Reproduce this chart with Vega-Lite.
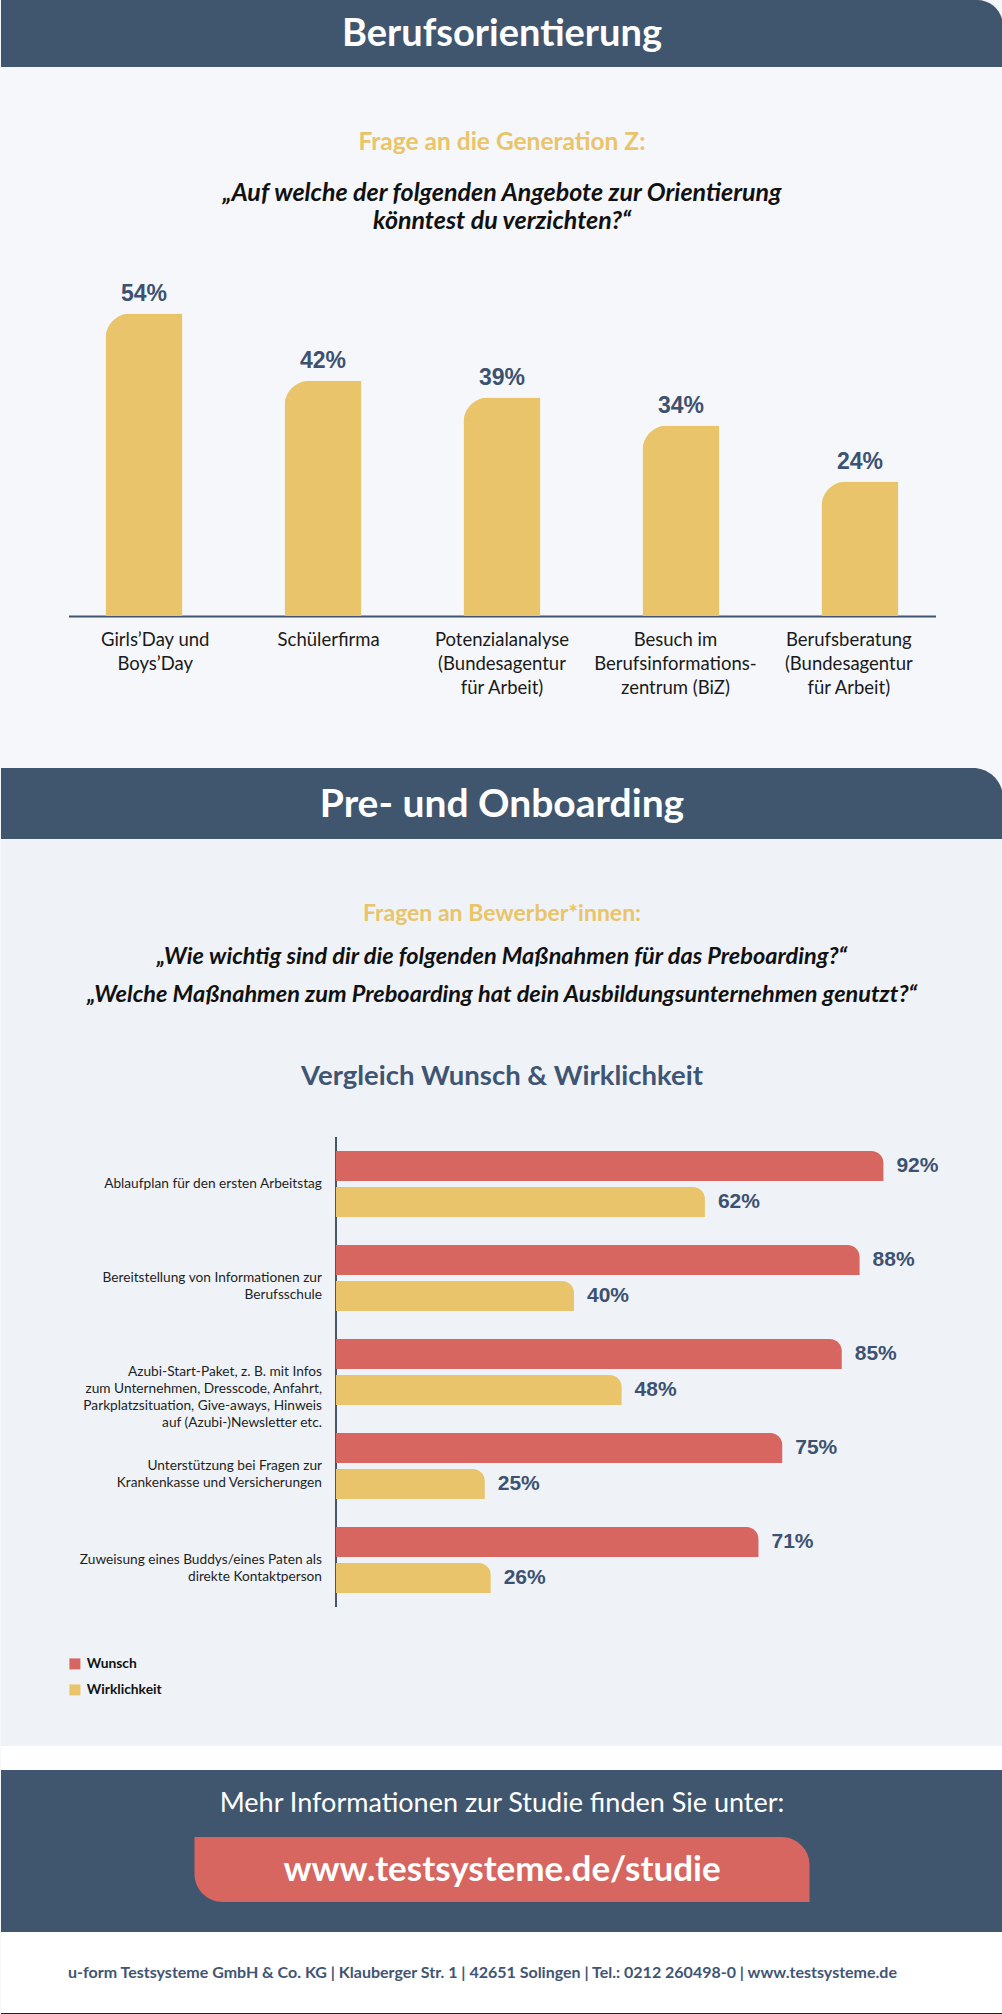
{
  "$schema": "https://vega.github.io/schema/vega-lite/v6.json",
  "padding": 0,
  "background": "#F5F7FA",
  "spacing": 0,
  "bounds": "flush",
  "center": true,
  "config": {"font": "Lato", "view": {"stroke": null}},
  "resolve": {"scale": {"x": "independent", "y": "independent", "color": "independent"}, "legend": {"color": "independent"}},
  "datasets": {
    "eins": [{}],
    "orientierung": [
      {"angebot": "Girls’Day und Boys’Day", "zeilen": ["Girls’Day und", "Boys’Day"], "anteil": 0.54},
      {"angebot": "Schülerfirma", "zeilen": ["Schülerfirma"], "anteil": 0.42},
      {"angebot": "Potenzialanalyse (Bundesagentur für Arbeit)", "zeilen": ["Potenzialanalyse", "(Bundesagentur", "für Arbeit)"], "anteil": 0.39},
      {"angebot": "Besuch im Berufsinformationszentrum (BiZ)", "zeilen": ["Besuch im", "Berufsinformations-", "zentrum (BiZ)"], "anteil": 0.34},
      {"angebot": "Berufsberatung (Bundesagentur für Arbeit)", "zeilen": ["Berufsberatung", "(Bundesagentur", "für Arbeit)"], "anteil": 0.24}
    ],
    "preboarding": [
      {"massnahme": "Ablaufplan für den ersten Arbeitstag", "zeilen": ["Ablaufplan für den ersten Arbeitstag"], "reihe": "Wunsch", "anteil": 0.92},
      {"massnahme": "Ablaufplan für den ersten Arbeitstag", "zeilen": ["Ablaufplan für den ersten Arbeitstag"], "reihe": "Wirklichkeit", "anteil": 0.62},
      {"massnahme": "Bereitstellung von Informationen zur Berufsschule", "zeilen": ["Bereitstellung von Informationen zur", "Berufsschule"], "reihe": "Wunsch", "anteil": 0.88},
      {"massnahme": "Bereitstellung von Informationen zur Berufsschule", "zeilen": ["Bereitstellung von Informationen zur", "Berufsschule"], "reihe": "Wirklichkeit", "anteil": 0.40},
      {"massnahme": "Azubi-Start-Paket", "zeilen": ["Azubi-Start-Paket, z. B. mit Infos", "zum Unternehmen, Dresscode, Anfahrt,", "Parkplatzsituation, Give-aways, Hinweis", "auf (Azubi-)Newsletter etc."], "reihe": "Wunsch", "anteil": 0.85},
      {"massnahme": "Azubi-Start-Paket", "zeilen": ["Azubi-Start-Paket, z. B. mit Infos", "zum Unternehmen, Dresscode, Anfahrt,", "Parkplatzsituation, Give-aways, Hinweis", "auf (Azubi-)Newsletter etc."], "reihe": "Wirklichkeit", "anteil": 0.48},
      {"massnahme": "Unterstützung bei Fragen zur Krankenkasse und Versicherungen", "zeilen": ["Unterstützung bei Fragen zur", "Krankenkasse und Versicherungen"], "reihe": "Wunsch", "anteil": 0.75},
      {"massnahme": "Unterstützung bei Fragen zur Krankenkasse und Versicherungen", "zeilen": ["Unterstützung bei Fragen zur", "Krankenkasse und Versicherungen"], "reihe": "Wirklichkeit", "anteil": 0.25},
      {"massnahme": "Zuweisung eines Buddys/eines Paten als direkte Kontaktperson", "zeilen": ["Zuweisung eines Buddys/eines Paten als", "direkte Kontaktperson"], "reihe": "Wunsch", "anteil": 0.71},
      {"massnahme": "Zuweisung eines Buddys/eines Paten als direkte Kontaktperson", "zeilen": ["Zuweisung eines Buddys/eines Paten als", "direkte Kontaktperson"], "reihe": "Wirklichkeit", "anteil": 0.26}
    ]
  },
  "vconcat": [
    {
      "width": 1002, "height": 67,
      "data": {"name": "eins"},
      "view": {"fill": "#F4F6F9", "stroke": null},
      "layer": [
        {"mark": {"type": "rect", "fill": "#40566F", "cornerRadiusTopRight": 26}, "encoding": {}},
        {"mark": {"type": "text", "fill": "#FFFFFF", "fontSize": 38, "fontWeight": "bold", "dy": 1}, "encoding": {"text": {"value": "Berufsorientierung"}}}
      ]
    },
    {
      "width": 1002, "height": 213,
      "data": {"name": "eins"},
      "layer": [
        {"mark": {"type": "text", "fill": "#E9C46A", "fontSize": 24.5, "fontWeight": "bold", "dy": -30.5}, "encoding": {"text": {"value": "Frage an die Generation Z:"}}},
        {"mark": {"type": "text", "fill": "#111111", "fontSize": 25, "fontWeight": "bold", "fontStyle": "italic", "dy": 19.5}, "encoding": {"text": {"value": "„Auf welche der folgenden Angebote zur Orientierung"}}},
        {"mark": {"type": "text", "fill": "#111111", "fontSize": 25, "fontWeight": "bold", "fontStyle": "italic", "dy": 47}, "encoding": {"text": {"value": "könntest du verzichten?“"}}}
      ]
    },
    {
      "width": 867, "height": 336,
      "data": {"name": "orientierung"},
      "encoding": {
        "x": {"field": "angebot", "type": "nominal", "sort": null,
              "scale": {"domain": ["Girls’Day und Boys’Day", "Schülerfirma", "Potenzialanalyse (Bundesagentur für Arbeit)", "Besuch im Berufsinformationszentrum (BiZ)", "Berufsberatung (Bundesagentur für Arbeit)"], "paddingInner": 0.57, "paddingOuter": 0.207},
              "axis": {"domain": true, "domainColor": "#40566F", "domainWidth": 2, "ticks": false, "labels": false, "title": null, "grid": false}}
      },
      "layer": [
        {"mark": {"type": "bar", "fill": "#E9C46A", "cornerRadiusTopLeft": 25},
         "encoding": {"y": {"field": "anteil", "type": "quantitative", "scale": {"domain": [0, 0.6], "nice": false}, "axis": null}}},
        {"mark": {"type": "text", "fill": "#3D5170", "font": "Liberation Sans", "fontSize": 23, "fontWeight": "bold", "baseline": "middle", "dy": -20},
         "encoding": {"y": {"field": "anteil", "type": "quantitative"}, "text": {"field": "anteil", "type": "quantitative", "format": ".0%"}}}
      ]
    },
    {
      "width": 867, "height": 152,
      "data": {"name": "orientierung"},
      "mark": {"type": "text", "fill": "#1A1A1A", "fontSize": 18.5, "lineHeight": 24, "baseline": "top", "dy": -61},
      "encoding": {
        "x": {"field": "angebot", "type": "nominal", "sort": null,
              "scale": {"domain": ["Girls’Day und Boys’Day", "Schülerfirma", "Potenzialanalyse (Bundesagentur für Arbeit)", "Besuch im Berufsinformationszentrum (BiZ)", "Berufsberatung (Bundesagentur für Arbeit)"], "paddingInner": 0.57, "paddingOuter": 0.207},
              "axis": null},
        "text": {"field": "zeilen", "type": "nominal"}
      }
    },
    {
      "width": 1002, "height": 71,
      "data": {"name": "eins"},
      "view": {"fill": "#F5F7FA", "stroke": null},
      "layer": [
        {"mark": {"type": "rect", "fill": "#40566F", "cornerRadiusTopRight": 30}, "encoding": {}},
        {"mark": {"type": "text", "fill": "#FFFFFF", "fontSize": 39, "fontWeight": "bold", "dy": 1}, "encoding": {"text": {"value": "Pre- und Onboarding"}}}
      ]
    },
    {
      "width": 1002, "height": 298,
      "data": {"name": "eins"},
      "view": {"fill": "#EFF3F7", "stroke": null},
      "layer": [
        {"mark": {"type": "text", "fill": "#E9C46A", "fontSize": 23, "fontWeight": "bold", "dy": -74}, "encoding": {"text": {"value": "Fragen an Bewerber*innen:"}}},
        {"mark": {"type": "text", "fill": "#111111", "fontSize": 23.5, "fontWeight": "bold", "fontStyle": "italic", "dy": -31}, "encoding": {"text": {"value": "„Wie wichtig sind dir die folgenden Maßnahmen für das Preboarding?“"}}},
        {"mark": {"type": "text", "fill": "#111111", "fontSize": 23.5, "fontWeight": "bold", "fontStyle": "italic", "dy": 7}, "encoding": {"text": {"value": "„Welche Maßnahmen zum Preboarding hat dein Ausbildungsunternehmen genutzt?“"}}},
        {"mark": {"type": "text", "fill": "#3F5573", "fontSize": 27.5, "fontWeight": "bold", "dy": 89}, "encoding": {"text": {"value": "Vergleich Wunsch & Wirklichkeit"}}}
      ]
    },
    {
      "width": 1002, "height": 470,
      "view": {"fill": "#EFF3F7", "stroke": null},
      "data": {"name": "preboarding"},
      "layer": [
        {"mark": {"type": "rule", "stroke": "#4A5668", "strokeWidth": 1.5},
         "encoding": {"x": {"datum": 0, "type": "quantitative", "scale": {"domain": [-0.563, 1.121], "nice": false, "zero": false}, "axis": null}}},
        {"mark": {"type": "bar", "cornerRadiusTopRight": 12},
         "encoding": {
           "x": {"field": "anteil", "type": "quantitative", "scale": {"domain": [-0.563, 1.121], "nice": false, "zero": false}, "axis": null},
           "x2": {"datum": 0},
           "y": {"field": "massnahme", "type": "nominal", "sort": null, "scale": {"domain": ["Ablaufplan für den ersten Arbeitstag", "Bereitstellung von Informationen zur Berufsschule", "Azubi-Start-Paket", "Unterstützung bei Fragen zur Krankenkasse und Versicherungen", "Zuweisung eines Buddys/eines Paten als direkte Kontaktperson"], "paddingInner": 0, "paddingOuter": 0}, "axis": null},
           "yOffset": {"field": "reihe", "type": "nominal", "sort": null, "scale": {"domain": ["Wunsch", "Wirklichkeit"], "paddingInner": 0.1667, "paddingOuter": 0.389}},
           "color": {"field": "reihe", "type": "nominal", "scale": {"domain": ["Wunsch", "Wirklichkeit"], "range": ["#D6665F", "#E9C46A"]}, "legend": null}
         }},
        {"mark": {"type": "text", "fill": "#3D5170", "font": "Liberation Sans", "fontSize": 21, "fontWeight": "bold", "align": "left", "baseline": "middle", "dx": 13},
         "encoding": {
           "x": {"field": "anteil", "type": "quantitative"},
           "y": {"field": "massnahme", "type": "nominal", "sort": null},
           "yOffset": {"field": "reihe", "type": "nominal", "sort": null},
           "text": {"field": "anteil", "type": "quantitative", "format": ".0%"}
         }},
        {"transform": [{"filter": "datum.reihe === 'Wunsch'"}],
         "mark": {"type": "text", "fill": "#1E1E1E", "fontSize": 13.7, "lineHeight": 17, "align": "right", "baseline": "middle", "dx": -14},
         "encoding": {
           "x": {"datum": 0, "type": "quantitative"},
           "y": {"field": "massnahme", "type": "nominal", "sort": null},
           "text": {"field": "zeilen", "type": "nominal"}
         }}
      ]
    },
    {
      "width": 1002, "height": 139,
      "view": {"fill": "#EFF3F7", "stroke": null},
      "data": {"values": [{"reihe": "Wunsch"}, {"reihe": "Wirklichkeit"}]},
      "mark": {"type": "text"},
      "encoding": {
        "text": {"value": ""},
        "color": {"field": "reihe", "type": "nominal", "scale": {"domain": ["Wunsch", "Wirklichkeit"], "range": ["#D6665F", "#E9C46A"]},
                  "legend": {"orient": "none", "legendX": 67, "legendY": 50, "title": null, "symbolType": "square", "symbolSize": 121, "symbolStrokeWidth": 0, "labelFont": "Lato", "labelFontWeight": "bold", "labelFontSize": 13.8, "labelColor": "#111111", "rowPadding": 11, "labelOffset": 5, "padding": 0}}
      }
    },
    {
      "width": 1002, "height": 24,
      "data": {"name": "eins"},
      "view": {"fill": "#FFFFFF", "stroke": null},
      "mark": {"type": "rect", "fill": "#FFFFFF"},
      "encoding": {}
    },
    {
      "width": 1002, "height": 67,
      "data": {"name": "eins"},
      "view": {"fill": "#40566F", "stroke": null},
      "mark": {"type": "text", "fill": "#FFFFFF", "fontSize": 27},
      "encoding": {"text": {"value": "Mehr Informationen zur Studie finden Sie unter:"}}
    },
    {
      "width": 1002, "height": 65,
      "view": {"fill": "#40566F", "stroke": null},
      "data": {"values": [{"link": "www.testsysteme.de/studie"}]},
      "encoding": {"x": {"field": "link", "type": "nominal", "scale": {"paddingInner": 0, "paddingOuter": 0.3146}, "axis": null}},
      "layer": [
        {"mark": {"type": "bar", "fill": "#D6665F", "cornerRadiusTopRight": 28, "cornerRadiusBottomLeft": 28}},
        {"mark": {"type": "text", "fill": "#FFFFFF", "fontSize": 35, "fontWeight": "bold"}, "encoding": {"text": {"field": "link", "type": "nominal"}}}
      ]
    },
    {
      "width": 1002, "height": 30,
      "data": {"name": "eins"},
      "view": {"fill": "#40566F", "stroke": null},
      "mark": {"type": "rect", "fill": "#40566F"},
      "encoding": {}
    },
    {
      "width": 1002, "height": 82,
      "data": {"name": "eins"},
      "view": {"fill": "#FFFFFF", "stroke": null},
      "layer": [
        {"mark": {"type": "text", "fill": "#3F5573", "fontSize": 16, "fontWeight": "bold", "dx": -19.5}, "encoding": {"text": {"value": "u-form Testsysteme GmbH & Co. KG  |  Klauberger Str. 1  |  42651 Solingen  |  Tel.: 0212 260498-0  |  www.testsysteme.de"}}},
        {"mark": {"type": "rule", "stroke": "#222222", "strokeWidth": 2}, "encoding": {"y": {"value": "height"}}}
      ]
    }
  ]
}
